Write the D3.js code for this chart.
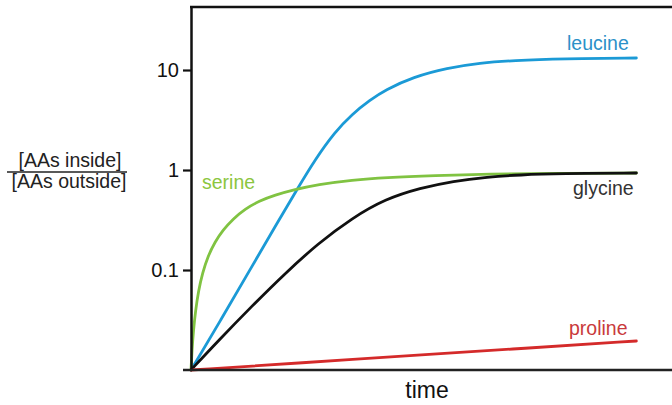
<!DOCTYPE html>
<html>
<head>
<meta charset="utf-8">
<script src="https://cdn.jsdelivr.net/npm/d3@7"></script>
<style>
  body { margin: 0; background: #fff; }
  svg { display: block; font-family: 'Liberation Sans', Arial, sans-serif; }
</style>
</head>
<body>
<svg id="chart"></svg>
<script>
// values (time in arbitrary units, ratio on log scale)
const leucineTime = [0, 6.7, 13.2, 19.5, 24.0, 27.8, 32.3, 36.2, 40.2, 43.6, 49.9, 57.5, 64.9, 72.3, 83.6, 100];
const leucineRatio = [0.01, 0.0316, 0.1, 0.302, 0.661, 1.26, 2.40, 3.63, 5.01, 6.31, 8.51, 10.47, 11.75, 12.45, 12.94, 13.18];

const serineTime = [0, 0.22, 0.56, 1.01, 1.68, 2.58, 3.82, 5.39, 7.18, 9.43, 12.1, 15.3, 18.9, 22.9, 28.5, 36.2, 43.6, 54.8, 66.5, 82.9, 100];
const serineRatio = [0.01, 0.0158, 0.0251, 0.0389, 0.0617, 0.0933, 0.138, 0.191, 0.251, 0.324, 0.407, 0.490, 0.562, 0.631, 0.716, 0.794, 0.841, 0.881, 0.912, 0.929, 0.933];

const glycineTime = [0, 6.07, 13.7, 21.1, 28.5, 36.2, 43.6, 51.5, 58.9, 66.5, 73.9, 82.9, 100];
const glycineRatio = [0.01, 0.0195, 0.0437, 0.0923, 0.184, 0.331, 0.513, 0.661, 0.776, 0.851, 0.895, 0.920, 0.933];

const prolineTime = [0, 25, 50, 75, 100];
const prolineRatio = [0.01, 0.0118, 0.014, 0.0165, 0.0195];

const yTicks = [0.1, 1, 10];
const yTickLabels = ['0.1', '1', '10'];

const series = [
  { name: 'leucine', time: leucineTime, ratio: leucineRatio, color: '#1b9ad6', labelColor: '#2b91c8' },
  { name: 'serine', time: serineTime, ratio: serineRatio, color: '#80c342', labelColor: '#8cc63f' },
  { name: 'glycine', time: glycineTime, ratio: glycineRatio, color: '#111111', labelColor: '#333333' },
  { name: 'proline', time: prolineTime, ratio: prolineRatio, color: '#d42a2a', labelColor: '#c93a3c' }
];

const width = 672;
const height = 405;
const plotLeft = 191;
const plotTop = 7;
const plotBottom = 370;

const svg = d3.select('#chart')
  .attr('width', width)
  .attr('height', height);

const xScale = d3.scaleLinear()
  .domain([0, 108])
  .range([plotLeft, width]);

const yScale = d3.scaleLog()
  .domain([0.01, 42.66])
  .range([plotBottom, plotTop]);

const line = d3.line()
  .x(d => xScale(d[0]))
  .y(d => yScale(d[1]))
  .curve(d3.curveBasis);

// curves
series.forEach(s => {
  svg.append('path')
    .datum(s.time.map((t, i) => [t, s.ratio[i]]))
    .attr('fill', 'none')
    .attr('stroke', s.color)
    .attr('stroke-width', 2.8)
    .attr('stroke-linecap', 'round')
    .attr('d', line);
});

// axes
const yAxis = d3.axisLeft(yScale)
  .tickValues(yTicks)
  .tickFormat((d, i) => yTickLabels[i])
  .tickSize(8)
  .tickSizeOuter(0)
  .tickPadding(4);

const gy = svg.append('g')
  .attr('transform', `translate(${plotLeft},0)`)
  .call(yAxis);
gy.select('.domain').attr('stroke', '#111').attr('stroke-width', 2.5);
gy.selectAll('.tick line').attr('stroke', '#111').attr('stroke-width', 2.2);
gy.selectAll('.tick text')
  .attr('fill', '#111')
  .style('font-size', '20px')
  .style('font-family', "'Liberation Sans', Arial, sans-serif");

// bottom axis line and top frame line
svg.append('line')
  .attr('x1', plotLeft - 8).attr('x2', width)
  .attr('y1', yScale(0.01)).attr('y2', yScale(0.01))
  .attr('stroke', '#222').attr('stroke-width', 2.5);

svg.append('line')
  .attr('x1', plotLeft - 1).attr('x2', width)
  .attr('y1', yScale.range()[1]).attr('y2', yScale.range()[1])
  .attr('stroke', '#111').attr('stroke-width', 2.5);

// x title
svg.append('text')
  .attr('x', xScale(53))
  .attr('y', 398)
  .attr('text-anchor', 'middle')
  .attr('fill', '#111')
  .style('font-size', '23px')
  .text('time');

// y title as a fraction
svg.append('text')
  .attr('x', 70).attr('y', 167)
  .attr('text-anchor', 'middle')
  .attr('fill', '#222')
  .style('font-size', '19.5px')
  .text('[AAs inside]');
svg.append('line')
  .attr('x1', 7).attr('x2', 127)
  .attr('y1', 172).attr('y2', 172)
  .attr('stroke', '#222').attr('stroke-width', 1.5);
svg.append('text')
  .attr('x', 69).attr('y', 188)
  .attr('text-anchor', 'middle')
  .attr('fill', '#222')
  .style('font-size', '19.5px')
  .text('[AAs outside]');

// series labels
const labelPos = {
  leucine: [567, 50],
  serine: [202, 189],
  glycine: [573, 195],
  proline: [569, 335]
};
series.forEach(s => {
  svg.append('text')
    .attr('x', labelPos[s.name][0])
    .attr('y', labelPos[s.name][1])
    .attr('fill', s.labelColor)
    .style('font-size', '19.5px')
    .text(s.name);
});
</script>
</body>
</html>
